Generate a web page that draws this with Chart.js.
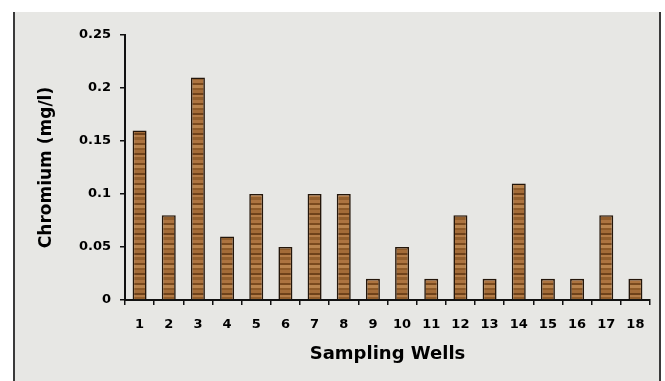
<!DOCTYPE html>
<html>
<head>
<meta charset="utf-8">
<script src="https://cdn.jsdelivr.net/npm/chart.js@4/dist/chart.umd.min.js"></script>
<style>
  html, body { margin: 0; padding: 0; background: #ffffff; }
  #wrap { width: 665px; height: 381px; position: relative; }
</style>
</head>
<body>
<div id="wrap"><canvas id="c" width="665" height="381"></canvas></div>
<script>
// Chromium concentration per sampling well
const wells = ['1','2','3','4','5','6','7','8','9','10','11','12','13','14','15','16','17','18'];
const chromium = [0.16, 0.08, 0.21, 0.06, 0.10, 0.05, 0.10, 0.10, 0.02, 0.05, 0.02, 0.08, 0.02, 0.11, 0.02, 0.02, 0.08, 0.02];
const yTicks = [0, 0.05, 0.1, 0.15, 0.2, 0.25];
const yTickLabels = ['0', '0.05', '0.1', '0.15', '0.2', '0.25'];

// Striped wood-like fill for the bars: bands of a few pixels in mixed browns
function woodPattern() {
  const p = document.createElement('canvas');
  const bands = [
    ['#ad7440', 3], ['#7a4a1e', 2], ['#b9844e', 3], ['#8e5a28', 2],
    ['#a46c38', 3], ['#6f421a', 2], ['#b47c47', 2], ['#925e2c', 3]
  ];
  const h = bands.reduce((s, b) => s + b[1], 0);
  p.width = 16; p.height = h;
  const g = p.getContext('2d');
  let y = 0;
  bands.forEach(([c, n]) => { g.fillStyle = c; g.fillRect(0, y, 16, n); y += n; });
  return g.createPattern(p, 'repeat');
}

// Panel behind the chart: light stone-coloured field with dark side rules
const panel = {
  id: 'panel',
  beforeDraw(chart) {
    const ctx = chart.ctx;
    ctx.save();
    ctx.fillStyle = '#ffffff';
    ctx.fillRect(0, 0, chart.width, chart.height);
    ctx.fillStyle = '#e7e7e4';
    ctx.fillRect(14, 12, 646, chart.height - 12);
    ctx.strokeStyle = '#3a3a3a';
    ctx.lineWidth = 2;
    ctx.beginPath();
    ctx.moveTo(14, 12); ctx.lineTo(14, chart.height);
    ctx.moveTo(660, 12); ctx.lineTo(660, chart.height);
    ctx.stroke();
    ctx.restore();
  }
};

const font = 'DejaVu Sans';

new Chart(document.getElementById('c'), {
  type: 'bar',
  data: {
    labels: wells,
    datasets: [{
      data: chromium,
      backgroundColor: woodPattern(),
      borderColor: '#24160a',
      borderWidth: 1.6,
      barPercentage: 0.48,
      categoryPercentage: 1.0
    }]
  },
  options: {
    responsive: false,
    animation: false,
    devicePixelRatio: 1,
    layout: { padding: { left: 0, top: 35, right: 15, bottom: 0 } },
    plugins: { legend: { display: false }, tooltip: { enabled: false } },
    scales: {
      x: {
        grid: { display: true, drawOnChartArea: false, color: '#111', lineWidth: 1.5, tickLength: 5, offset: true },
        border: { display: true, color: '#111', width: 2 },
        ticks: { color: '#000', font: { family: font, size: 13, weight: 'bold' }, padding: 12, maxRotation: 0, autoSkip: false },
        title: { display: true, text: 'Sampling Wells', color: '#000', font: { family: font, size: 18, weight: 'bold' }, padding: { top: 0, bottom: 16 } },
        afterFit(s) { s.height = 81; }
      },
      y: {
        min: 0, max: 0.25,
        grid: { display: true, drawOnChartArea: false, color: '#111', lineWidth: 1.5, tickLength: 5 },
        border: { display: true, color: '#111', width: 2 },
        afterBuildTicks(s) { s.ticks = yTicks.map(v => ({ value: v })); },
        ticks: {
          color: '#000', font: { family: font, size: 13, weight: 'bold' }, padding: 9,
          callback: (v) => yTickLabels[yTicks.indexOf(v)] ?? ''
        },
        title: { display: true, text: 'Chromium (mg/l)', color: '#000', font: { family: font, size: 17, weight: 'bold' }, padding: { top: 36, bottom: 0 } },
        afterFit(s) { s.width = 125; }
      }
    }
  },
  plugins: [panel]
});
</script>
</body>
</html>
